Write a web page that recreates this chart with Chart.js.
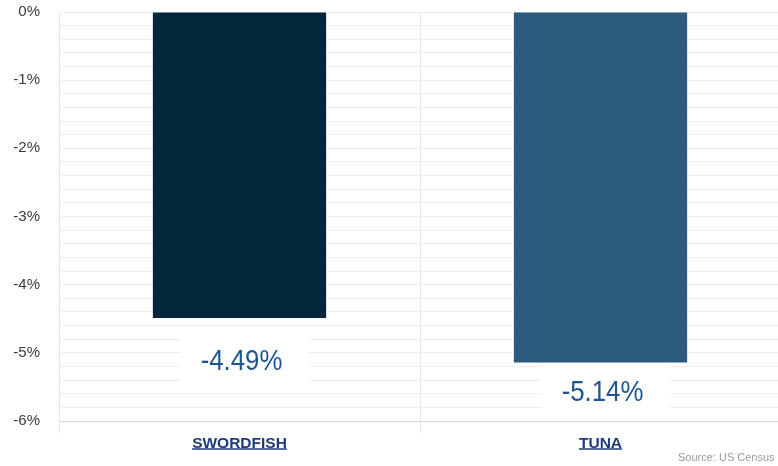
<!DOCTYPE html>
<html>
<head>
<meta charset="utf-8">
<script src="https://cdn.jsdelivr.net/npm/chart.js@4"></script>
<style>
  html, body { margin: 0; padding: 0; background: #fff; overflow: hidden; }
  #wrap { position: relative; width: 782px; height: 466px; }
  #source {
    position: absolute; left: 678px; top: 451px;
    font: 11px "Liberation Sans", Arial, sans-serif; color: #9a9a9a; white-space: nowrap;
  }
</style>
</head>
<body>
<div id="wrap">
  <canvas id="chart"></canvas>
  <div id="source">Source: US Census Bureau</div>
</div>
<script>
const categories = ['SWORDFISH', 'TUNA'];
const changeValues = [-4.49, -5.14];
const barColors = ['#03263a', '#2b5a7f'];
const yMin = -6;
const yMax = 0;

// white boxes with the value under each bar
const valueLabels = {
  id: 'valueLabels',
  afterDatasetsDraw(chart) {
    const ctx = chart.ctx;
    const area = chart.chartArea;
    const meta = chart.getDatasetMeta(0);
    meta.data.forEach((bar, i) => {
      const boxW = 128, boxH = 55;
      const top = Math.min(bar.y + 16, area.bottom - 56);
      ctx.save();
      ctx.fillStyle = '#ffffff';
      ctx.fillRect(bar.x + 5 - boxW / 2, top, boxW, boxH);
      ctx.translate(bar.x + 2, top + boxH / 2 + 0.5);
      ctx.scale(0.86, 1);
      ctx.fillStyle = '#1d5492';
      ctx.font = '30px "Liberation Sans", Arial, sans-serif';
      ctx.textAlign = 'center';
      ctx.textBaseline = 'middle';
      ctx.fillText(changeValues[i].toFixed(2) + '%', 0, 0);
      ctx.restore();
    });
  },
  afterDraw(chart) {
    // underline the category labels
    const ctx = chart.ctx;
    const xs = chart.scales.x;
    ctx.save();
    ctx.font = 'bold 15.5px "Liberation Sans", Arial, sans-serif';
    ctx.strokeStyle = '#1f3a78';
    ctx.lineWidth = 1.3;
    categories.forEach((c, i) => {
      const x = xs.getPixelForTick(i);
      const w = ctx.measureText(c).width;
      const y = xs.top + 28;
      ctx.beginPath();
      ctx.moveTo(x - w / 2, y);
      ctx.lineTo(x + w / 2, y);
      ctx.stroke();
    });
    ctx.restore();
  }
};

new Chart(document.getElementById('chart'), {
  type: 'bar',
  data: {
    labels: categories,
    datasets: [{
      data: changeValues,
      backgroundColor: barColors,
      borderWidth: 0,
      categoryPercentage: 1,
      barPercentage: 0.48
    }]
  },
  options: {
    responsive: true,
    maintainAspectRatio: false,
    animation: false,
    layout: { padding: { top: 12, right: 1, bottom: 0, left: 0 } },
    plugins: {
      legend: { display: false },
      tooltip: { enabled: false }
    },
    scales: {
      x: {
        grid: { color: '#e6e6e6', tickLength: 12, offset: true },
        border: { color: '#ccd6eb', width: 1 },
        ticks: {
          color: '#1f3a78',
          padding: 1,
          font: { family: '"Liberation Sans", Arial, sans-serif', size: 15.5, weight: 'bold' }
        },
        afterFit(scale) {
          scale.height = 45;
          scale.paddingLeft = 0;
          scale.paddingRight = 0;
        }
      },
      y: {
        min: yMin,
        max: yMax,
        grid: { color: '#eeeeee', drawTicks: false },
        border: { color: '#e6e6e6' },
        ticks: {
          stepSize: 0.2,
          autoSkip: false,
          padding: 19,
          color: '#3a3a3a',
          font: { family: '"Liberation Sans", Arial, sans-serif', size: 15 },
          callback(v) {
            return Math.abs(v - Math.round(v)) < 1e-6 ? `${Math.round(v)}%` : '';
          }
        },
        afterFit(scale) {
          scale.width = 59;
          scale.paddingTop = 0;
          scale.paddingBottom = 0;
        }
      }
    }
  },
  plugins: [valueLabels]
});
</script>
</body>
</html>
